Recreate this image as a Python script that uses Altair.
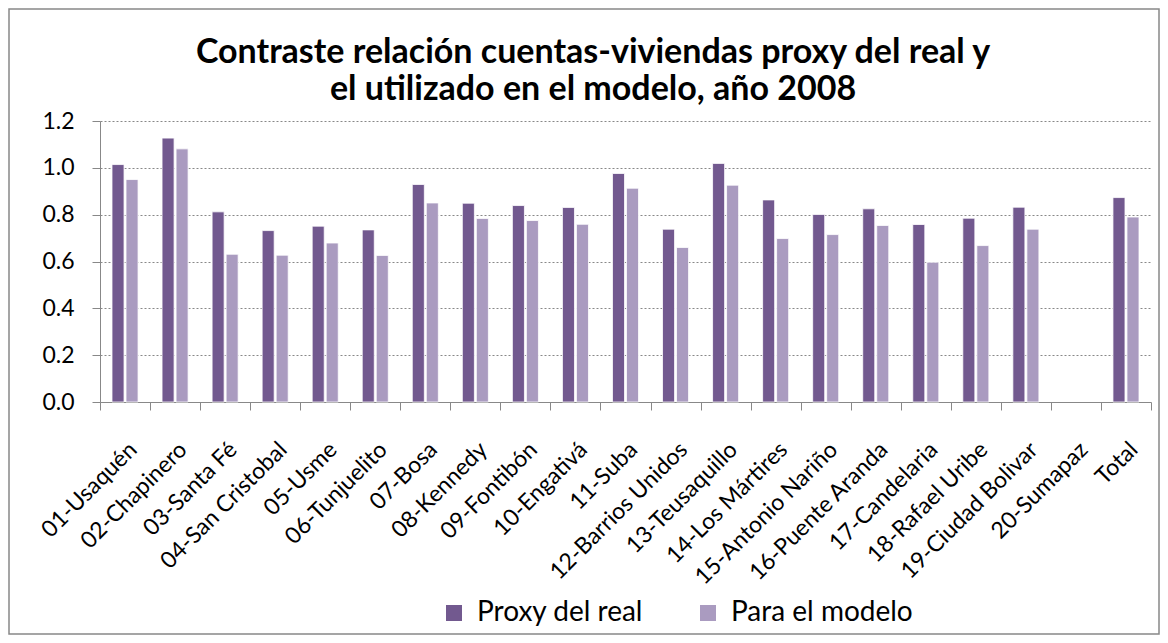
import altair as alt
import pandas as pd

categories = [
    "01-Usaquén", "02-Chapinero", "03-Santa Fé", "04-San Cristobal", "05-Usme",
    "06-Tunjuelito", "07-Bosa", "08-Kennedy", "09-Fontibón", "10-Engativá",
    "11-Suba", "12-Barrios Unidos", "13-Teusaquillo", "14-Los Mártires",
    "15-Antonio Nariño", "16-Puente Aranda", "17-Candelaria", "18-Rafael Uribe",
    "19-Ciudad Bolivar", "20-Sumapaz", "Total",
]
proxy_real = [1.014, 1.127, 0.812, 0.732, 0.751, 0.735, 0.929, 0.849, 0.839, 0.831,
              0.976, 0.738, 1.019, 0.863, 0.801, 0.825, 0.758, 0.785, 0.832, None, 0.873]
para_modelo = [0.950, 1.081, 0.631, 0.627, 0.679, 0.626, 0.850, 0.784, 0.775, 0.759,
               0.913, 0.660, 0.926, 0.698, 0.715, 0.754, 0.597, 0.668, 0.738, None, 0.790]
series_names = ["Proxy del real", "Para el modelo"]
colors = ["#72598F", "#AA9BC0"]
y_ticks = [0.0, 0.2, 0.4, 0.6, 0.8, 1.0, 1.2]
title_lines = ["Contraste relación cuentas-viviendas proxy del real y",
               "el  utilizado en el modelo, año 2008"]

rows = []
for c, a, b in zip(categories, proxy_real, para_modelo):
    rows.append({"cat": c, "serie": series_names[0], "valor": a})
    rows.append({"cat": c, "serie": series_names[1], "valor": b})
df = pd.DataFrame(rows)

W, H = 1051, 281
PL, PT, PR, PB = 92, 113, 9, 233
FONT = "Lato"

bars = alt.Chart(df).mark_bar(stroke="white", strokeWidth=0.8).encode(
    x=alt.X("cat:N", sort=categories,
            scale=alt.Scale(domain=categories, paddingInner=0, paddingOuter=0),
            axis=alt.Axis(title=None, labelAngle=-45, labelFontSize=23, labelFont=FONT,
                          labelColor="black", tickBand="extent", tickSize=8,
                          tickColor="#888888", domainColor="#888888", grid=False,
                          labelPadding=28, labelOverlap=False, labelLimit=0)),
    xOffset=alt.XOffset("serie:N", sort=series_names,
                        scale=alt.Scale(domain=series_names, paddingInner=0.14, paddingOuter=0.856)),
    y=alt.Y("valor:Q", scale=alt.Scale(domain=[0, 1.2], nice=False),
            axis=alt.Axis(title=None, values=y_ticks, format=".1f", labelFontSize=23,
                          labelFont=FONT, labelColor="black", tickSize=8, labelPadding=18,
                          tickColor="#888888", domainColor="#888888",
                          grid=True, gridColor="#888888", gridDash=[2, 2], gridWidth=1)),
    color=alt.Color("serie:N", sort=series_names,
                    scale=alt.Scale(domain=series_names, range=colors),
                    legend=alt.Legend(title=None, orient="none", direction="horizontal",
                                      legendX=340, legendY=478, symbolType="square",
                                      symbolSize=256, symbolStrokeWidth=0,
                                      labelFontSize=28, labelFont=FONT, labelColor="black",
                                      labelLimit=0, columnPadding=50, labelOffset=9)),
)

title1 = alt.Chart(pd.DataFrame({"k": [0]})).mark_text(
    font=FONT, fontSize=34, fontWeight="bold", color="black", align="center", baseline="alphabetic"
).encode(text=alt.value(title_lines[0]), x=alt.value(493), y=alt.value(-58))

title2 = alt.Chart(pd.DataFrame({"k": [0]})).mark_text(
    font=FONT, fontSize=34, fontWeight="bold", color="black", align="center", baseline="alphabetic"
).encode(text=alt.value(title_lines[1]), x=alt.value(493), y=alt.value(-21))

frame = alt.Chart(pd.DataFrame({"k": [0]})).mark_rect(
    fill=None, stroke="#888888", strokeWidth=1.5
).encode(
    x=alt.value(-PL + 1), x2=alt.value(W + PR - 1),
    y=alt.value(-PT + 1), y2=alt.value(H + PB - 1),
)

chart = alt.layer(frame, bars, title1, title2).properties(
    width=W, height=H,
    padding={"left": PL, "top": PT, "right": PR, "bottom": PB},
    autosize=alt.AutoSizeParams(type="none"),
).configure_view(stroke=None)

chart.save("out.html", embed_options={"renderer": "svg", "actions": False})
